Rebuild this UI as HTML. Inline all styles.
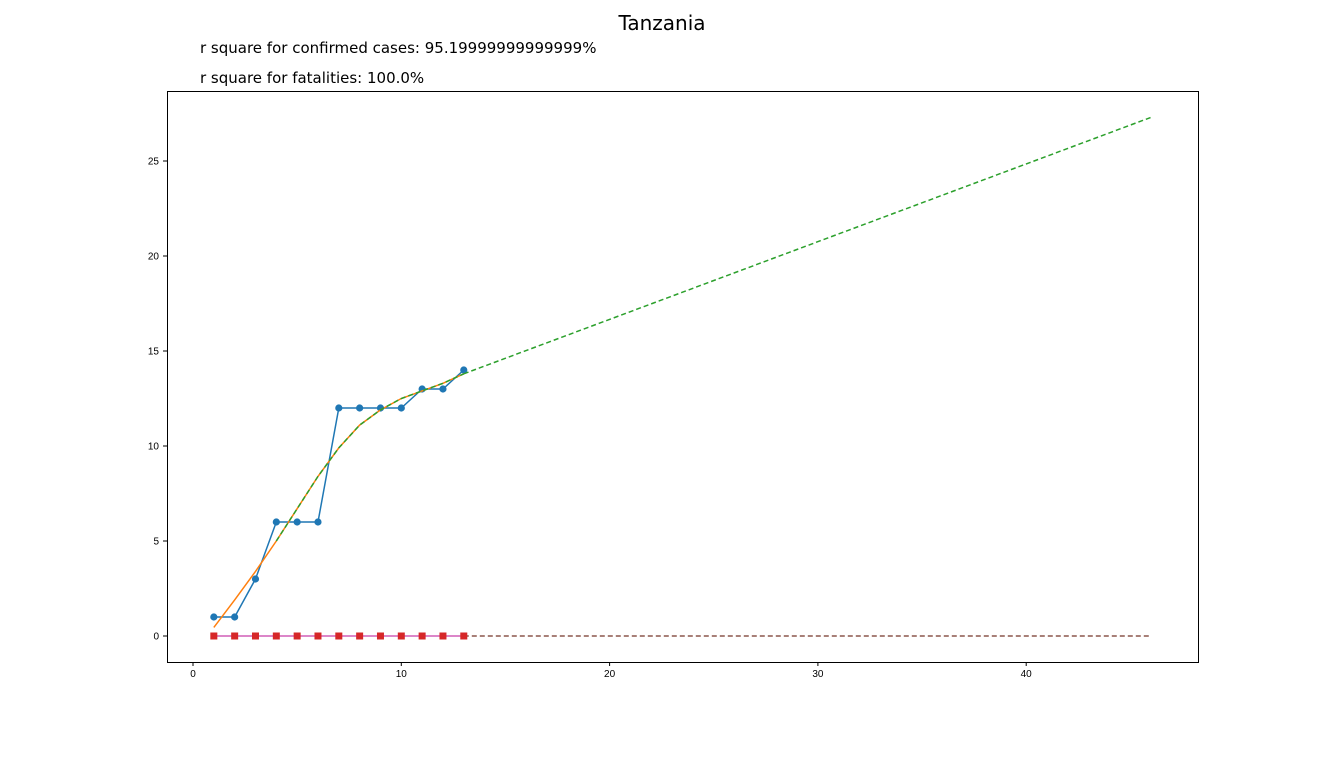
<!DOCTYPE html>
<html><head><meta charset="utf-8"><style>
body{margin:0;background:#fff;width:1332px;height:756px;overflow:hidden;font-family:"Liberation Sans","DejaVu Sans",sans-serif}
</style></head><body>
<svg id="chart" width="1332" height="756" xmlns="http://www.w3.org/2000/svg">
<text x="662" y="30" font-size="20" text-anchor="middle" font-family="DejaVu Sans, sans-serif">Tanzania</text>
<text x="200" y="53" font-size="15" font-family="DejaVu Sans, sans-serif">r square for confirmed cases: 95.19999999999999%</text>
<text x="200" y="83" font-size="15" font-family="DejaVu Sans, sans-serif">r square for fatalities: 100.0%</text>
<rect x="167.5" y="91.5" width="1031" height="571" fill="none" stroke="#000" stroke-width="1"/>
<g id="ticks"></g><g id="marks"></g>
</svg>
<script>
const days = [1,2,3,4,5,6,7,8,9,10,11,12,13];
const confirmed = [1,1,3,6,6,6,12,12,12,12,13,13,14];
const fitConfirmed = [0.45,1.9,3.4,5.0,6.7,8.4,9.9,11.1,11.9,12.5,12.9,13.3,13.8];
const predDays = [13,46];
const predConfirmed = [13.8,27.3];
const fatalities = [0,0,0,0,0,0,0,0,0,0,0,0,0];
const predFatalities = [0,0];
const xTicks = [0,10,20,30,40];
const yTicks = [0,5,10,15,20,25];

const X = v => 193 + v*20.83;
const Y = v => 636 - v*19.0;
const NS = "http://www.w3.org/2000/svg";
const ticks = document.getElementById('ticks'), marks = document.getElementById('marks');
function mk(tag, attrs, parent){const e=document.createElementNS(NS,tag);for(const k in attrs)e.setAttribute(k,attrs[k]);parent.appendChild(e);return e;}
xTicks.forEach(t=>{
  const l=mk('line',{x1:X(t),x2:X(t),y1:662,y2:666,stroke:'#000'},ticks);
  
  
  const tx=mk('text',{x:X(t),y:677,'font-size':10,'text-anchor':'middle'},ticks);tx.textContent=t;
  
  
});
yTicks.forEach(t=>{
  const l=mk('line',{x1:163,x2:167,y1:Y(t),y2:Y(t),stroke:'#000'},ticks);
  
  
  const tx=mk('text',{x:159,y:Y(t)+3.5,'font-size':10,'text-anchor':'end'},ticks);tx.textContent=t;
  
  
});
function line(xs, ys, color, dash, name){
  const p=mk('polyline',{points:xs.map((x,i)=>X(x)+','+Y(ys[i])).join(' '),fill:'none',stroke:color,'stroke-width':1.5,'stroke-dasharray':dash||'none'},marks);
  
  
}
line(days, confirmed, '#1f77b4', null, 'confirmed-line');
days.forEach((d,i)=>{
  const c=mk('circle',{cx:X(d),cy:Y(confirmed[i]),r:3.6,fill:'#1f77b4'},marks);
  
  
});
line(days, fitConfirmed, '#ff7f0e', null, 'confirmed-fit-line');
line(days.slice(3), fitConfirmed.slice(3), '#2ca02c', '5,3', 'confirmed-fit-dashed');
line(predDays, predConfirmed, '#2ca02c', '5,3', 'confirmed-prediction-line');
line(days, fatalities, '#9467bd', null, 'fatalities-fit-line');
line(days, fatalities, '#e377c2', null, 'fatalities-line');
line(predDays, predFatalities, '#8c564b', '5,3', 'fatalities-prediction-line');
days.forEach((d,i)=>{
  const r=mk('rect',{x:X(d)-3.5,y:Y(fatalities[i])-3.5,width:7,height:7,fill:'#d62728'},marks);
  
  
});
</script>
</body></html>
